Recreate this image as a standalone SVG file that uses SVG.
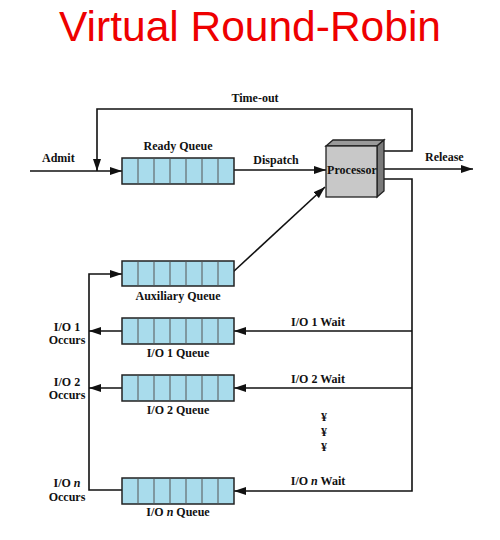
<svg xmlns="http://www.w3.org/2000/svg" width="500" height="540" viewBox="0 0 500 540">
<style>
.t{font-family:"Liberation Serif",serif;font-weight:bold;font-size:12px;fill:#111}
.m{text-anchor:middle}
.ln{fill:none;stroke:#111;stroke-width:1.6}
.q{fill:#a9dcec;stroke:#222;stroke-width:1.5}
.c{stroke:#555;stroke-width:1}
</style>
<defs>
<marker id="ah" viewBox="0 0 12 8" refX="12" refY="4" markerWidth="12" markerHeight="8" markerUnits="userSpaceOnUse" orient="auto">
<path d="M0,0 L12,4 L0,8 Z" fill="#111"/>
</marker>
<g id="cells">
<line class="c" x1="16" y1="0" x2="16" y2="26"/>
<line class="c" x1="32" y1="0" x2="32" y2="26"/>
<line class="c" x1="48" y1="0" x2="48" y2="26"/>
<line class="c" x1="64" y1="0" x2="64" y2="26"/>
<line class="c" x1="80" y1="0" x2="80" y2="26"/>
<line class="c" x1="96" y1="0" x2="96" y2="26"/>
</g>
</defs>
<text x="250" y="41" text-anchor="middle" font-family="Liberation Sans,Arial,sans-serif" font-size="42.5" fill="#ee0000">Virtual Round-Robin</text>

<g id="connectors">
<line class="ln" x1="30" y1="171" x2="122" y2="171" marker-end="url(#ah)"/>
<polyline class="ln" points="381,151 412,151 412,109 97,109 97,171" marker-end="url(#ah)"/>
<line class="ln" x1="234" y1="170" x2="326" y2="170" marker-end="url(#ah)"/>
<line class="ln" x1="384" y1="169" x2="473" y2="169" marker-end="url(#ah)"/>
<line class="ln" x1="233" y1="272" x2="325" y2="187" marker-end="url(#ah)"/>
<polyline class="ln" points="381,179 412,179 412,491 234,491" marker-end="url(#ah)"/>
<line class="ln" x1="412" y1="331" x2="234" y2="331" marker-end="url(#ah)"/>
<line class="ln" x1="412" y1="388" x2="234" y2="388" marker-end="url(#ah)"/>
<polyline class="ln" points="122,490 89,490 89,274 122,274" marker-end="url(#ah)"/>
<line class="ln" x1="122" y1="331" x2="89" y2="331" marker-end="url(#ah)"/>
<line class="ln" x1="122" y1="388" x2="89" y2="388" marker-end="url(#ah)"/>
</g>

<g id="ready-queue">
<rect class="q" x="122" y="158" width="112" height="26"/>
<use href="#cells" x="122" y="158"/>
<text class="t m" x="178" y="150">Ready Queue</text>
</g>
<g id="auxiliary-queue">
<rect class="q" x="122" y="261" width="112" height="25"/>
<use href="#cells" x="122" y="260.5"/>
<text class="t m" x="178" y="300">Auxiliary Queue</text>
</g>
<g id="io1-queue">
<rect class="q" x="122" y="318" width="112" height="26"/>
<use href="#cells" x="122" y="318"/>
<text class="t m" x="178" y="357">I/O 1 Queue</text>
</g>
<g id="io2-queue">
<rect class="q" x="122" y="375" width="112" height="26"/>
<use href="#cells" x="122" y="375"/>
<text class="t m" x="178" y="414">I/O 2 Queue</text>
</g>
<g id="ion-queue">
<rect class="q" x="122" y="478" width="112" height="26"/>
<use href="#cells" x="122" y="478"/>
<text class="t m" x="178" y="516">I/O <tspan font-style="italic">n</tspan> Queue</text>
</g>

<g id="processor">
<path d="M326,146 L333,140 L384,140 L377,146 Z" fill="#9a9a9a" stroke="#222" stroke-width="1.3"/>
<path d="M377,146 L384,140 L384,191 L377,197 Z" fill="#7a7a7a" stroke="#222" stroke-width="1.3"/>
<rect x="326" y="146" width="51" height="51" fill="#c8c8c8" stroke="#222" stroke-width="1.3"/>
<text class="t m" x="352" y="174" font-size="10.5">Processor</text>
</g>

<g id="labels">
<text class="t" x="42" y="162">Admit</text>
<text class="t m" x="255" y="102">Time-out</text>
<text class="t m" x="276" y="164">Dispatch</text>
<text class="t" x="425" y="161">Release</text>
<text class="t m" x="318" y="326">I/O 1 Wait</text>
<text class="t m" x="318" y="383">I/O 2 Wait</text>
<text class="t m" x="318" y="485">I/O <tspan font-style="italic">n</tspan> Wait</text>
<text class="t m" x="324" y="421">¥</text>
<text class="t m" x="324" y="436">¥</text>
<text class="t m" x="324" y="451">¥</text>
<text class="t m" x="67" y="331">I/O 1</text>
<text class="t m" x="67" y="344">Occurs</text>
<text class="t m" x="67" y="386">I/O 2</text>
<text class="t m" x="67" y="399">Occurs</text>
<text class="t m" x="67" y="487">I/O <tspan font-style="italic">n</tspan></text>
<text class="t m" x="67" y="501">Occurs</text>
</g>
</svg>
